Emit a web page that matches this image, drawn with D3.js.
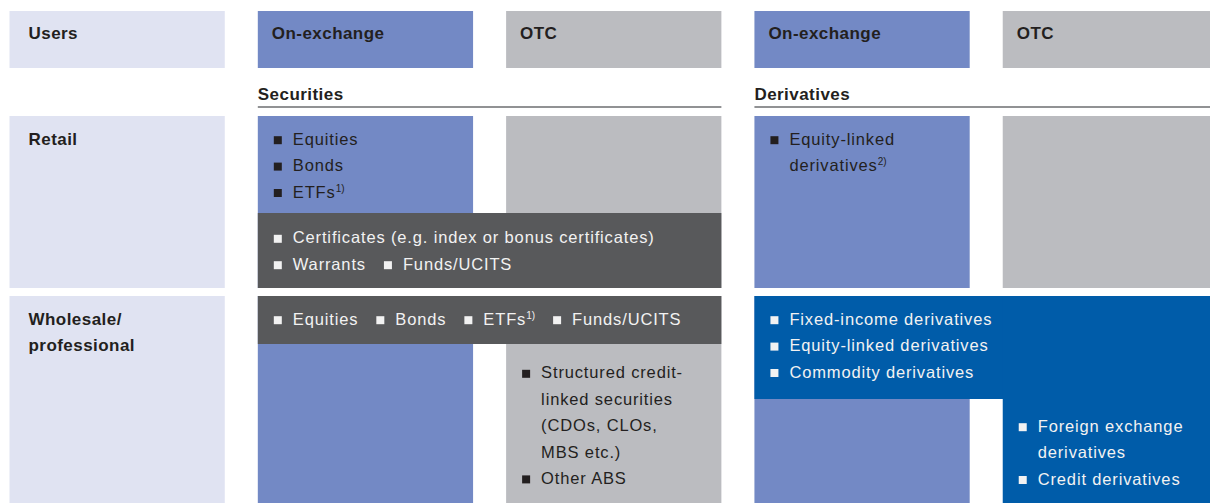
<!DOCTYPE html>
<html>
<head>
<script src="https://d3js.org/d3.v7.min.js"></script>
<style>
  body { margin: 0; background: #fff; }
  svg text { font-family: "Liberation Sans", Arial, sans-serif; }
</style>
</head>
<body>
<svg id="chart" width="1210" height="503"></svg>
<script>
// Column headings and row labels
var columns = ["Users", "On-exchange", "OTC", "On-exchange", "OTC"];
var sections = [{ name: "Securities", from: 1, to: 2 }, { name: "Derivatives", from: 3, to: 4 }];
var rows = [["Retail"], ["Wholesale/", "professional"]];

// Product lists: [text, superscript, bullet?]
var retailSecOnEx = [["Equities"], ["Bonds"], ["ETFs", "1)"]];
var retailSecBoth = [[["Certificates (e.g. index or bonus certificates)"]], [["Warrants"], ["Funds/UCITS"]]];
var retailDerOnEx = [["Equity-linked", "", true], ["derivatives", "2)", false]];
var wholeSecBoth = [[["Equities"], ["Bonds"], ["ETFs", "1)"], ["Funds/UCITS"]]];
var wholeSecOtc = [["Structured credit-", "", true], ["linked securities", "", false], ["(CDOs, CLOs,", "", false], ["MBS etc.)", "", false], ["Other ABS", "", true]];
var wholeDerBoth = [["Fixed-income derivatives"], ["Equity-linked derivatives"], ["Commodity derivatives"]];
var wholeDerOtc = [["Foreign exchange", "", true], ["derivatives", "", false], ["Credit derivatives", "", true]];

var colors = {
  label: "#e0e3f2", onex: "#7389c5", otc: "#bbbcc0",
  dark: "#58595b", navy: "#005ca9", text: "#231f20", light: "#f2f2f2"
};

var svg = d3.select("#chart");
var x = d3.scaleBand().domain(d3.range(5)).range([9.5, 1218]).paddingInner(33 / 248).paddingOuter(0);
var bw = x.bandwidth();
function span(a, b) { return x(b) + bw - x(a); }

// vertical layout
var head = [11, 68], sectionLine = 107, retail = [116, 288], whole = [296, 503];
var lh = 26.4;

function rect(x0, y0, w, h, fill) {
  svg.append("rect").attr("x", x0).attr("y", y0).attr("width", w).attr("height", h).attr("fill", fill);
}
function bold(x0, y0, t) {
  svg.append("text").attr("x", x0).attr("y", y0).attr("font-size", 17).attr("font-weight", "bold")
    .attr("letter-spacing", 0.45).attr("fill", colors.text).text(t);
}

// header row
columns.forEach(function(c, i) {
  rect(x(i), head[0], bw, head[1] - head[0], i === 0 ? colors.label : (i % 2 ? colors.onex : colors.otc));
  bold(x(i) + (i === 0 ? 19 : 14), 39, c);
});

// section titles
sections.forEach(function(s) {
  bold(x(s.from), 100, s.name);
  svg.append("line").attr("x1", x(s.from)).attr("x2", x(s.to) + bw)
    .attr("y1", sectionLine).attr("y2", sectionLine).attr("stroke", "#6d6e71").attr("stroke-width", 1.3);
});

// row labels
[retail, whole].forEach(function(r, i) {
  rect(x(0), r[0], bw, r[1] - r[0], colors.label);
  rows[i].forEach(function(t, j) { bold(x(0) + 19, r[0] + 29 + j * lh, t); });
});

// background blocks
rect(x(1), retail[0], bw, retail[1] - retail[0], colors.onex);
rect(x(2), retail[0], bw, retail[1] - retail[0], colors.otc);
rect(x(3), retail[0], bw, retail[1] - retail[0], colors.onex);
rect(x(4), retail[0], bw, retail[1] - retail[0], colors.otc);
rect(x(1), 213, span(1, 2), retail[1] - 213, colors.dark);

rect(x(1), whole[0], bw, whole[1] - whole[0], colors.onex);
rect(x(2), whole[0], bw, whole[1] - whole[0], colors.otc);
rect(x(1), whole[0], span(1, 2), 48, colors.dark);
rect(x(3), whole[0], bw, whole[1] - whole[0], colors.onex);
rect(x(3), whole[0], span(3, 4), 103, colors.navy);
rect(x(4), whole[0], bw, whole[1] - whole[0], colors.navy);

// an item: bullet + text (+ superscript)
function item(x0, y0, d, bullet, fill) {
  if (bullet) {
    svg.append("rect").attr("x", x0).attr("y", y0 - 8.5).attr("width", 8).attr("height", 8).attr("fill", fill);
  }
  var t = svg.append("text").attr("x", x0 + 19).attr("y", y0).attr("font-size", 16.5)
    .attr("letter-spacing", 0.85).attr("fill", fill);
  t.append("tspan").text(d[0]);
  if (d[1]) t.append("tspan").attr("font-size", 10).attr("letter-spacing", 0).attr("dy", -6).text(d[1]);
  return t;
}

function list(data, x0, y0, fill) {
  data.forEach(function(d, i) {
    item(x0, y0 + i * lh, d, d.length < 3 || d[2], fill);
  });
}

// items laid side by side on one line
function inline(data, x0, y0, fill) {
  data.forEach(function(line, i) {
    var cx = x0;
    line.forEach(function(d) {
      var t = item(cx, y0 + i * lh, d, true, fill);
      cx += 19 + t.node().getComputedTextLength() + 18;
    });
  });
}

list(retailSecOnEx, x(1) + 16, 144.7, colors.text);
inline(retailSecBoth, x(1) + 16, 243.3, colors.light);
list(retailDerOnEx, x(3) + 16, 144.7, colors.text);
inline(wholeSecBoth, x(1) + 16, 324.7, colors.light);
list(wholeSecOtc, x(2) + 16, 378.3, colors.text);
list(wholeDerBoth, x(3) + 16, 324.7, colors.light);
list(wholeDerOtc, x(4) + 16, 431.7, colors.light);
</script>
</body>
</html>
